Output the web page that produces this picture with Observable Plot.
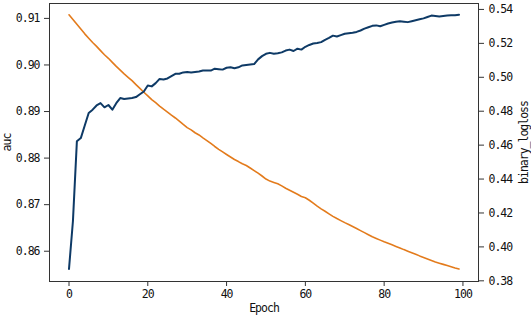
<!DOCTYPE html>
<html>
<head>
<meta charset="utf-8">
<script src="https://cdn.jsdelivr.net/npm/d3@7"></script>
<script src="https://cdn.jsdelivr.net/npm/@observablehq/plot@0.6"></script>
<style>
  html, body { margin: 0; padding: 0; background: #fff; }
  #chart svg { display: block; }
</style>
</head>
<body>
<div id="chart"></div>
<script>
const epochs = d3.range(0, 100);

const auc = [
  0.8562, 0.8665, 0.8836, 0.8843, 0.8870, 0.8897, 0.8904, 0.8913, 0.8918, 0.8909,
  0.8914, 0.8904, 0.8918, 0.8929, 0.8927, 0.8928, 0.8929, 0.8931, 0.8937, 0.8943,
  0.8956, 0.8954, 0.8961, 0.8970, 0.8969, 0.8971, 0.8976, 0.8981, 0.8981, 0.8984,
  0.8985, 0.8984, 0.8985, 0.8986, 0.8988, 0.8988, 0.8988, 0.8992, 0.8991, 0.8990,
  0.8994, 0.8995, 0.8993, 0.8995, 0.8999, 0.9000, 0.9001, 0.9002, 0.9012, 0.9019,
  0.9024, 0.9026, 0.9024, 0.9025, 0.9027, 0.9031, 0.9033, 0.9030, 0.9035, 0.9033,
  0.9039, 0.9043, 0.9046, 0.9047, 0.9049, 0.9054, 0.9058, 0.9063, 0.9061, 0.9064,
  0.9067, 0.9068, 0.9069, 0.9071, 0.9074, 0.9078, 0.9081, 0.9084, 0.9085, 0.9083,
  0.9086, 0.9089, 0.9091, 0.9093, 0.9094, 0.9093, 0.9092, 0.9094, 0.9096, 0.9098,
  0.9100, 0.9103, 0.9106, 0.9105, 0.9104, 0.9105, 0.9106, 0.9107, 0.9107, 0.9108
];

const binaryLogloss = [
  0.5368, 0.5340, 0.5312, 0.5284, 0.5256, 0.5230, 0.5205, 0.5182, 0.5157, 0.5133,
  0.5112, 0.5088, 0.5064, 0.5042, 0.5020, 0.5000, 0.4980, 0.4957, 0.4935, 0.4912,
  0.4890, 0.4868, 0.4850, 0.4830, 0.4812, 0.4795, 0.4777, 0.4760, 0.4742, 0.4722,
  0.4703, 0.4690, 0.4673, 0.4660, 0.4643, 0.4627, 0.4610, 0.4592, 0.4575, 0.4560,
  0.4545, 0.4530, 0.4515, 0.4503, 0.4490, 0.4480, 0.4465, 0.4450, 0.4435, 0.4418,
  0.4400, 0.4388, 0.4380, 0.4372, 0.4360, 0.4346, 0.4334, 0.4322, 0.4310, 0.4297,
  0.4290, 0.4275, 0.4258, 0.4240, 0.4224, 0.4210, 0.4195, 0.4180, 0.4167, 0.4155,
  0.4143, 0.4132, 0.4120, 0.4108, 0.4096, 0.4084, 0.4072, 0.4060, 0.4050, 0.4040,
  0.4030, 0.4021, 0.4012, 0.4003, 0.3994, 0.3984, 0.3975, 0.3966, 0.3957, 0.3947,
  0.3938, 0.3929, 0.3920, 0.3911, 0.3904, 0.3897, 0.3890, 0.3883, 0.3876, 0.3870
];

const xTicks = [0, 20, 40, 60, 80, 100];
const aucTicks = [0.86, 0.87, 0.88, 0.89, 0.90, 0.91];
const lossTicks = [0.38, 0.40, 0.42, 0.44, 0.46, 0.48, 0.50, 0.52, 0.54];

const aucDomain = [0.8535, 0.9132];
const lossDomain = [0.3796, 0.5435];
// map logloss values onto the auc (left) scale, for the twin axis
const lossToAuc = d3.scaleLinear().domain(lossDomain).range(aucDomain);

const aucData = epochs.map((e, i) => ({epoch: e, value: auc[i]}));
const lossData = epochs.map((e, i) => ({epoch: e, value: binaryLogloss[i]}));

const navy = "#0e3a66";
const orange = "#e37b1c";

const chart = Plot.plot({
  width: 531,
  height: 315,
  marginLeft: 49,
  marginRight: 53,
  marginTop: 3,
  marginBottom: 34,
  style: {
    fontFamily: "'DejaVu Sans Mono', monospace",
    fontSize: "11.5px",
    color: "#111",
    background: "#fff",
    letterSpacing: "-1px"
  },
  x: {domain: [-4.95, 103.95]},
  y: {domain: aucDomain},
  marks: [
    Plot.frame({stroke: "#333", strokeWidth: 1}),
    Plot.line(lossData, {x: "epoch", y: d => lossToAuc(d.value), stroke: orange, strokeWidth: 1.6}),
    Plot.line(aucData, {x: "epoch", y: "value", stroke: navy, strokeWidth: 2}),
    Plot.axisX(xTicks, {
      anchor: "bottom", tickSize: 5, tickPadding: 3, stroke: "#333",
      label: "Epoch", labelAnchor: "center", labelOffset: 30, labelArrow: "none"
    }),
    Plot.axisY(aucTicks, {
      anchor: "left", tickSize: 5, tickPadding: 5, stroke: "#333",
      tickFormat: d3.format(".2f"),
      label: "auc", labelAnchor: "center", labelOffset: 47, labelArrow: "none"
    }),
    Plot.axisY(lossTicks.map(v => lossToAuc(v)), {
      anchor: "right", tickSize: 5, tickPadding: 5, stroke: "#333",
      tickFormat: d => d3.format(".2f")(lossToAuc.invert(d)),
      label: "binary_logloss", labelAnchor: "center", labelOffset: 49, labelArrow: "none"
    })
  ]
});

document.getElementById("chart").appendChild(chart);
</script>
</body>
</html>
